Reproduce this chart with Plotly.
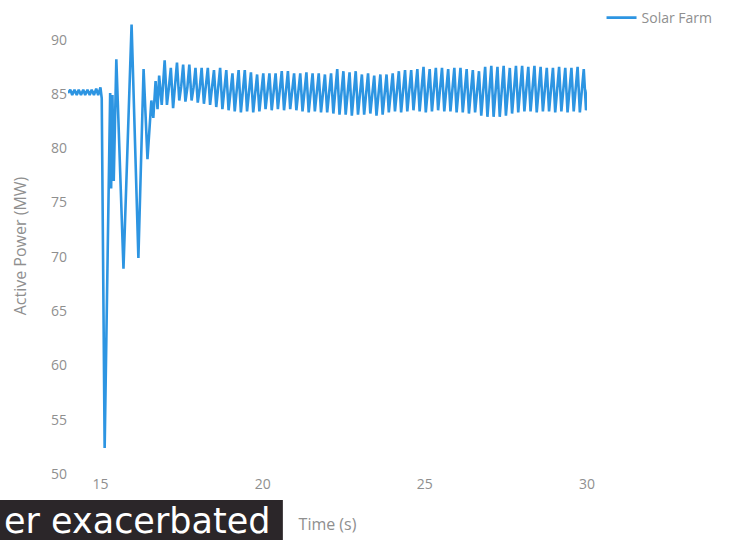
import plotly.graph_objects as go

# Solar farm active power response to a grid disturbance at t = 15 s

# pre-disturbance operation (s, MW)
pre_time = [14.00, 14.07, 14.13, 14.20, 14.27, 14.33, 14.40, 14.47, 14.53,
            14.60, 14.67, 14.73, 14.80, 14.87, 14.93, 15.00]
pre_power = [85.1, 85.4, 84.9, 85.4, 84.9, 85.4, 84.9, 85.4, 84.9,
             85.4, 84.9, 85.4, 84.9, 85.5, 84.9, 85.6]

# disturbance and recovery swings (s, MW)
fault_time = [15.04, 15.13, 15.30, 15.33, 15.37, 15.41, 15.49, 15.71, 15.96,
              16.17, 16.33, 16.45, 16.57, 16.63, 16.70, 16.76, 16.81, 16.89]
fault_power = [84.6, 52.4, 85.1, 76.3, 84.9, 77.0, 88.2, 68.9, 91.4,
               69.9, 87.3, 79.0, 84.4, 82.8, 86.2, 83.6, 86.7, 84.0]

# sustained oscillation after recovery: per cycle a peak, a trough and
# the level the output swings back through before the next peak
osc_start = 16.98
osc_period = 0.19
osc_peaks = [88.1, 87.4, 87.9, 87.7, 87.7, 87.4, 87.4, 87.4, 87.2, 87.4, 87.2,
             86.9, 87.2, 87.2, 87.0, 86.8, 86.9, 86.9, 86.9, 87.1, 87.1,
             86.9, 86.9, 87.0, 86.9, 86.9, 86.8, 86.9, 87.3, 87.1, 87.0, 87.1,
             86.8, 86.9, 86.7, 86.8, 86.8, 86.9, 87.1, 87.2, 87.2, 87.3, 87.5,
             87.3, 87.4,
             87.4, 87.3, 87.4, 87.4, 87.3, 87.2, 87.1, 87.5, 87.6, 87.5, 87.6,
             87.4, 87.6, 87.6, 87.5, 87.6, 87.5, 87.4, 87.4, 87.5, 87.4, 87.4,
             87.5, 87.3]
osc_troughs = [84.0, 83.7, 84.4, 84.3, 84.4, 84.2, 84.1, 84.0, 83.8, 83.6, 83.5,
               83.4, 83.3, 83.4, 83.3, 83.4, 83.6, 83.5, 83.6, 83.5, 83.6,
               83.5, 83.4, 83.3, 83.4, 83.3, 83.3, 83.2, 83.1, 83.1, 83.0, 83.1,
               83.1, 83.2, 83.0, 83.1, 83.3, 83.4, 83.3, 83.4, 83.5, 83.4, 83.3,
               83.4, 83.5,
               83.4, 83.4, 83.3, 83.3, 83.2, 83.3, 83.0, 82.9, 82.9, 82.9, 83.0,
               83.2, 83.3, 83.4, 83.4, 83.3, 83.4, 83.4, 83.3, 83.4, 83.3, 83.4,
               83.3, 83.5]
osc_mid = [85.6, 85.5, 85.7, 85.6, 85.6, 85.5, 85.5, 85.4, 85.4, 85.3, 85.3,
           85.2, 85.2, 85.2, 85.1, 85.1, 85.2, 85.2, 85.2, 85.2, 85.3,
           85.2, 85.1, 85.1, 85.1, 85.0, 85.0, 85.0, 85.1, 85.0, 85.0, 85.0,
           84.9, 85.0, 84.9, 85.0, 85.0, 85.1, 85.1, 85.2, 85.3, 85.3, 85.3,
           85.3, 85.4,
           85.3, 85.3, 85.3, 85.3, 85.2, 85.2, 85.1, 85.1, 85.1, 85.1, 85.2,
           85.2, 85.3, 85.4, 85.4, 85.4, 85.4, 85.4, 85.3, 85.4, 85.3, 85.4,
           85.3, 85.4]

x_ticks = [15, 20, 25, 30]
y_ticks = [50, 55, 60, 65, 70, 75, 80, 85, 90]

osc_time, osc_power = [], []
for k, (hi, lo, md) in enumerate(zip(osc_peaks, osc_troughs, osc_mid)):
    t0 = osc_start + k * osc_period
    osc_time += [t0, t0 + 0.07, t0 + 0.13]
    osc_power += [hi, lo, md]

time = pre_time + fault_time + osc_time
power = pre_power + fault_power + osc_power

fig = go.Figure()
fig.add_trace(go.Scatter(
    x=time, y=power, mode="lines", name="Solar Farm", showlegend=True,
    line=dict(color="#2d95e2", width=2.6),
))

grey = "#8f8f8f"
fig.update_layout(
    width=729, height=540,
    margin=dict(l=68, r=142, t=18, b=66, autoexpand=False),
    paper_bgcolor="white", plot_bgcolor="white",
    font=dict(family="Open Sans", color=grey, size=14),
    xaxis=dict(
        range=[14, 30], tickvals=x_ticks, ticktext=[str(v) for v in x_ticks],
        showgrid=False, zeroline=False, showline=False,
        tickfont=dict(size=14, color=grey),
        title=dict(text="Time (s)", font=dict(size=16, color=grey), standoff=26),
    ),
    yaxis=dict(
        range=[50, 92], tickvals=y_ticks, ticktext=[str(v) for v in y_ticks],
        showgrid=False, zeroline=False, showline=False,
        tickfont=dict(size=14, color=grey),
        title=dict(text="Active Power (MW)", font=dict(size=16, color=grey), standoff=20),
    ),
    legend=dict(x=1.028, y=1.035, xanchor="left", yanchor="top",
                font=dict(size=14, color=grey), bgcolor="rgba(0,0,0,0)"),
)

# caption banner across the lower left corner
fig.add_shape(type="rect", xref="paper", yref="paper",
              x0=-0.14, x1=0.414, y0=-0.057, y1=-0.16,
              fillcolor="#2b2629", line=dict(width=0), layer="above")
fig.add_annotation(text="er exacerbated", xref="paper", yref="paper",
                   x=-0.128, y=-0.104, xanchor="left", yanchor="middle",
                   showarrow=False,
                   font=dict(family="DejaVu Sans", size=35, color="white"))

fig.write_html("out.html")
